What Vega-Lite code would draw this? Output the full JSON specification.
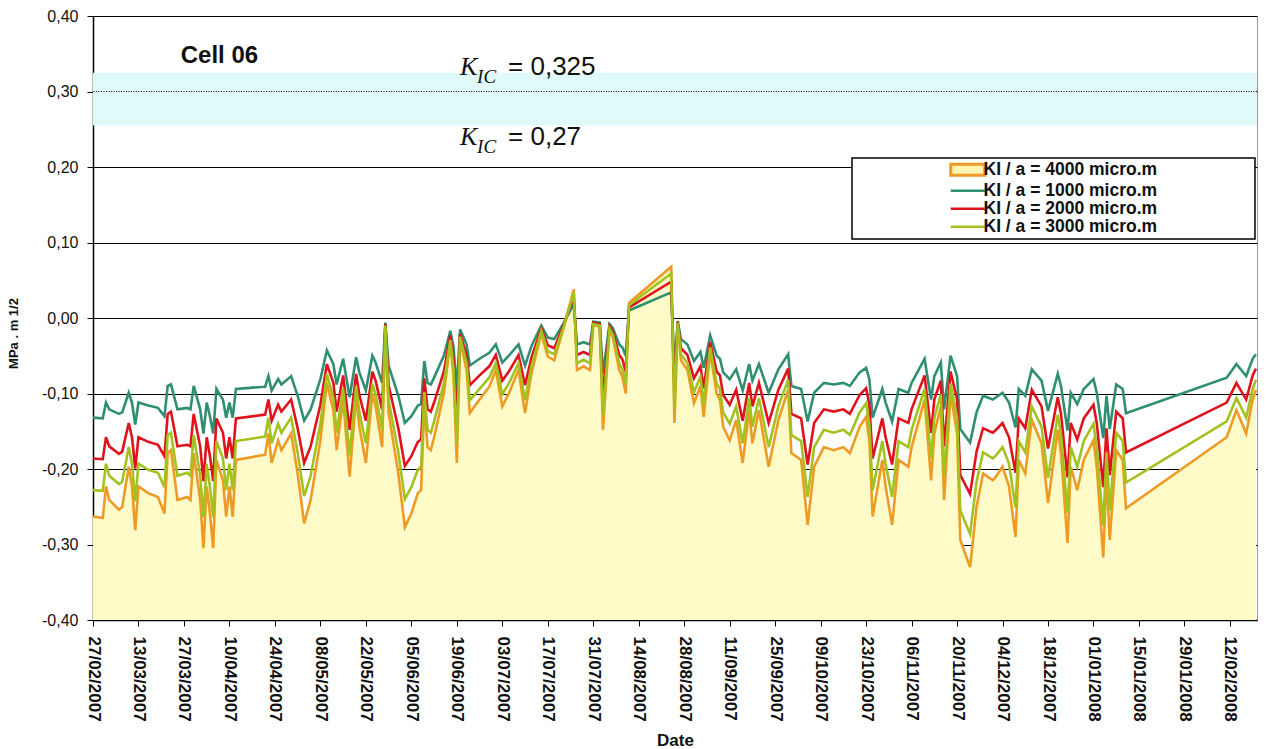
{
  "$schema": "https://vega.github.io/schema/vega-lite/v6.json",
  "width": 1164,
  "height": 604,
  "autosize": {"type": "none"},
  "padding": {"left": 93, "top": 16, "right": 9, "bottom": 129},
  "background": "white",
  "config": {
    "font": "Liberation Sans",
    "view": {"stroke": "#9a9a9a", "strokeWidth": 1},
    "legend": {
      "orient": "none",
      "legendX": 759,
      "legendY": 142,
      "padding": 3,
      "symbolOffset": 104,
      "strokeColor": "#000",
      "strokeWidth": 1.5,
      "fillColor": "white",
      "labelFontSize": 17.5,
      "labelFontWeight": "bold",
      "labelColor": "#111",
      "labelOffset": 7,
      "labelLimit": 400,
      "rowPadding": -2.5,
      "symbolSize": 1156,
      "symbolStrokeWidth": 2.5
    }
  },
  "datasets": {
    "k": [
      {"d":"2007-02-27","k1000":-0.132,"k2000":-0.186,"k3000":-0.228,"k4000":-0.263},
      {"d":"2007-03-02","k1000":-0.133,"k2000":-0.187,"k3000":-0.229,"k4000":-0.265},
      {"d":"2007-03-03","k1000":-0.112,"k2000":-0.158,"k3000":-0.193,"k4000":-0.223},
      {"d":"2007-03-04","k1000":-0.121,"k2000":-0.170,"k3000":-0.209,"k4000":-0.241},
      {"d":"2007-03-07","k1000":-0.127,"k2000":-0.180,"k3000":-0.220,"k4000":-0.254},
      {"d":"2007-03-08","k1000":-0.125,"k2000":-0.177,"k3000":-0.217,"k4000":-0.250},
      {"d":"2007-03-10","k1000":-0.099,"k2000":-0.139,"k3000":-0.171,"k4000":-0.197},
      {"d":"2007-03-11","k1000":-0.112,"k2000":-0.158,"k3000":-0.193,"k4000":-0.223},
      {"d":"2007-03-12","k1000":-0.141,"k2000":-0.199,"k3000":-0.243,"k4000":-0.281},
      {"d":"2007-03-13","k1000":-0.112,"k2000":-0.158,"k3000":-0.193,"k4000":-0.223},
      {"d":"2007-03-16","k1000":-0.116,"k2000":-0.164,"k3000":-0.201,"k4000":-0.232},
      {"d":"2007-03-19","k1000":-0.119,"k2000":-0.168,"k3000":-0.205,"k4000":-0.237},
      {"d":"2007-03-21","k1000":-0.130,"k2000":-0.183,"k3000":-0.224,"k4000":-0.259},
      {"d":"2007-03-22","k1000":-0.090,"k2000":-0.127,"k3000":-0.155,"k4000":-0.179},
      {"d":"2007-03-23","k1000":-0.088,"k2000":-0.124,"k3000":-0.152,"k4000":-0.175},
      {"d":"2007-03-25","k1000":-0.121,"k2000":-0.170,"k3000":-0.209,"k4000":-0.241},
      {"d":"2007-03-28","k1000":-0.119,"k2000":-0.168,"k3000":-0.205,"k4000":-0.237},
      {"d":"2007-03-29","k1000":-0.121,"k2000":-0.170,"k3000":-0.209,"k4000":-0.241},
      {"d":"2007-03-30","k1000":-0.090,"k2000":-0.127,"k3000":-0.155,"k4000":-0.179},
      {"d":"2007-04-01","k1000":-0.121,"k2000":-0.170,"k3000":-0.209,"k4000":-0.241},
      {"d":"2007-04-02","k1000":-0.153,"k2000":-0.216,"k3000":-0.264,"k4000":-0.305},
      {"d":"2007-04-03","k1000":-0.112,"k2000":-0.158,"k3000":-0.193,"k4000":-0.223},
      {"d":"2007-04-04","k1000":-0.130,"k2000":-0.183,"k3000":-0.224,"k4000":-0.259},
      {"d":"2007-04-05","k1000":-0.153,"k2000":-0.216,"k3000":-0.264,"k4000":-0.305},
      {"d":"2007-04-06","k1000":-0.094,"k2000":-0.133,"k3000":-0.163,"k4000":-0.188},
      {"d":"2007-04-08","k1000":-0.108,"k2000":-0.152,"k3000":-0.186,"k4000":-0.215},
      {"d":"2007-04-09","k1000":-0.132,"k2000":-0.186,"k3000":-0.228,"k4000":-0.263},
      {"d":"2007-04-10","k1000":-0.112,"k2000":-0.158,"k3000":-0.193,"k4000":-0.223},
      {"d":"2007-04-11","k1000":-0.132,"k2000":-0.186,"k3000":-0.228,"k4000":-0.263},
      {"d":"2007-04-12","k1000":-0.094,"k2000":-0.133,"k3000":-0.163,"k4000":-0.188},
      {"d":"2007-04-21","k1000":-0.091,"k2000":-0.128,"k3000":-0.157,"k4000":-0.181},
      {"d":"2007-04-22","k1000":-0.077,"k2000":-0.108,"k3000":-0.132,"k4000":-0.153},
      {"d":"2007-04-23","k1000":-0.096,"k2000":-0.136,"k3000":-0.166,"k4000":-0.192},
      {"d":"2007-04-25","k1000":-0.081,"k2000":-0.115,"k3000":-0.140,"k4000":-0.162},
      {"d":"2007-04-26","k1000":-0.088,"k2000":-0.124,"k3000":-0.152,"k4000":-0.175},
      {"d":"2007-04-29","k1000":-0.077,"k2000":-0.108,"k3000":-0.132,"k4000":-0.153},
      {"d":"2007-05-01","k1000":-0.103,"k2000":-0.146,"k3000":-0.178,"k4000":-0.206},
      {"d":"2007-05-03","k1000":-0.136,"k2000":-0.192,"k3000":-0.236,"k4000":-0.272},
      {"d":"2007-05-05","k1000":-0.121,"k2000":-0.170,"k3000":-0.209,"k4000":-0.241},
      {"d":"2007-05-08","k1000":-0.081,"k2000":-0.115,"k3000":-0.140,"k4000":-0.162},
      {"d":"2007-05-10","k1000":-0.043,"k2000":-0.061,"k3000":-0.074,"k4000":-0.086},
      {"d":"2007-05-12","k1000":-0.061,"k2000":-0.086,"k3000":-0.106,"k4000":-0.122},
      {"d":"2007-05-13","k1000":-0.088,"k2000":-0.124,"k3000":-0.152,"k4000":-0.175},
      {"d":"2007-05-15","k1000":-0.054,"k2000":-0.076,"k3000":-0.094,"k4000":-0.108},
      {"d":"2007-05-17","k1000":-0.105,"k2000":-0.148,"k3000":-0.182,"k4000":-0.210},
      {"d":"2007-05-19","k1000":-0.052,"k2000":-0.074,"k3000":-0.090,"k4000":-0.104},
      {"d":"2007-05-20","k1000":-0.072,"k2000":-0.102,"k3000":-0.125,"k4000":-0.144},
      {"d":"2007-05-22","k1000":-0.096,"k2000":-0.136,"k3000":-0.166,"k4000":-0.192},
      {"d":"2007-05-24","k1000":-0.050,"k2000":-0.071,"k3000":-0.087,"k4000":-0.100},
      {"d":"2007-05-25","k1000":-0.059,"k2000":-0.083,"k3000":-0.101,"k4000":-0.117},
      {"d":"2007-05-27","k1000":-0.086,"k2000":-0.121,"k3000":-0.148,"k4000":-0.171},
      {"d":"2007-05-28","k1000":-0.006,"k2000":-0.008,"k3000":-0.010,"k4000":-0.012},
      {"d":"2007-05-29","k1000":-0.063,"k2000":-0.089,"k3000":-0.109,"k4000":-0.126},
      {"d":"2007-06-01","k1000":-0.103,"k2000":-0.146,"k3000":-0.178,"k4000":-0.206},
      {"d":"2007-06-03","k1000":-0.139,"k2000":-0.196,"k3000":-0.240,"k4000":-0.277},
      {"d":"2007-06-05","k1000":-0.130,"k2000":-0.183,"k3000":-0.224,"k4000":-0.259},
      {"d":"2007-06-07","k1000":-0.116,"k2000":-0.164,"k3000":-0.201,"k4000":-0.232},
      {"d":"2007-06-08","k1000":-0.114,"k2000":-0.161,"k3000":-0.197,"k4000":-0.228},
      {"d":"2007-06-09","k1000":-0.057,"k2000":-0.080,"k3000":-0.098,"k4000":-0.113},
      {"d":"2007-06-10","k1000":-0.086,"k2000":-0.121,"k3000":-0.148,"k4000":-0.171},
      {"d":"2007-06-11","k1000":-0.088,"k2000":-0.124,"k3000":-0.152,"k4000":-0.175},
      {"d":"2007-06-12","k1000":-0.079,"k2000":-0.112,"k3000":-0.137,"k4000":-0.158},
      {"d":"2007-06-15","k1000":-0.050,"k2000":-0.071,"k3000":-0.087,"k4000":-0.100},
      {"d":"2007-06-17","k1000":-0.017,"k2000":-0.023,"k3000":-0.029,"k4000":-0.033},
      {"d":"2007-06-18","k1000":-0.039,"k2000":-0.055,"k3000":-0.068,"k4000":-0.078},
      {"d":"2007-06-19","k1000":-0.096,"k2000":-0.136,"k3000":-0.166,"k4000":-0.192},
      {"d":"2007-06-20","k1000":-0.015,"k2000":-0.021,"k3000":-0.025,"k4000":-0.029},
      {"d":"2007-06-22","k1000":-0.035,"k2000":-0.049,"k3000":-0.060,"k4000":-0.069},
      {"d":"2007-06-23","k1000":-0.063,"k2000":-0.089,"k3000":-0.109,"k4000":-0.126},
      {"d":"2007-06-26","k1000":-0.054,"k2000":-0.076,"k3000":-0.094,"k4000":-0.108},
      {"d":"2007-06-29","k1000":-0.046,"k2000":-0.064,"k3000":-0.079,"k4000":-0.091},
      {"d":"2007-07-01","k1000":-0.035,"k2000":-0.049,"k3000":-0.060,"k4000":-0.069},
      {"d":"2007-07-03","k1000":-0.059,"k2000":-0.083,"k3000":-0.101,"k4000":-0.117},
      {"d":"2007-07-05","k1000":-0.050,"k2000":-0.071,"k3000":-0.087,"k4000":-0.100},
      {"d":"2007-07-08","k1000":-0.035,"k2000":-0.049,"k3000":-0.060,"k4000":-0.069},
      {"d":"2007-07-10","k1000":-0.063,"k2000":-0.089,"k3000":-0.109,"k4000":-0.126},
      {"d":"2007-07-12","k1000":-0.037,"k2000":-0.052,"k3000":-0.063,"k4000":-0.073},
      {"d":"2007-07-15","k1000":-0.010,"k2000":-0.014,"k3000":-0.017,"k4000":-0.020},
      {"d":"2007-07-17","k1000":-0.026,"k2000":-0.036,"k3000":-0.044,"k4000":-0.051},
      {"d":"2007-07-19","k1000":-0.028,"k2000":-0.040,"k3000":-0.048,"k4000":-0.056},
      {"d":"2007-07-22","k1000":-0.006,"k2000":-0.008,"k3000":-0.010,"k4000":-0.011},
      {"d":"2007-07-25","k1000":0.019,"k2000":0.027,"k3000":0.033,"k4000":0.038},
      {"d":"2007-07-26","k1000":-0.035,"k2000":-0.049,"k3000":-0.060,"k4000":-0.069},
      {"d":"2007-07-28","k1000":-0.032,"k2000":-0.045,"k3000":-0.055,"k4000":-0.064},
      {"d":"2007-07-30","k1000":-0.035,"k2000":-0.049,"k3000":-0.060,"k4000":-0.069},
      {"d":"2007-07-31","k1000":-0.005,"k2000":-0.006,"k3000":-0.008,"k4000":-0.009},
      {"d":"2007-08-02","k1000":-0.006,"k2000":-0.008,"k3000":-0.010,"k4000":-0.011},
      {"d":"2007-08-03","k1000":-0.074,"k2000":-0.105,"k3000":-0.128,"k4000":-0.148},
      {"d":"2007-08-05","k1000":-0.008,"k2000":-0.011,"k3000":-0.014,"k4000":-0.016},
      {"d":"2007-08-06","k1000":-0.013,"k2000":-0.018,"k3000":-0.022,"k4000":-0.025},
      {"d":"2007-08-08","k1000":-0.035,"k2000":-0.049,"k3000":-0.060,"k4000":-0.069},
      {"d":"2007-08-09","k1000":-0.039,"k2000":-0.055,"k3000":-0.068,"k4000":-0.078},
      {"d":"2007-08-10","k1000":-0.050,"k2000":-0.071,"k3000":-0.087,"k4000":-0.100},
      {"d":"2007-08-11","k1000":0.010,"k2000":0.014,"k3000":0.017,"k4000":0.020},
      {"d":"2007-08-24","k1000":0.034,"k2000":0.048,"k3000":0.059,"k4000":0.068},
      {"d":"2007-08-25","k1000":-0.070,"k2000":-0.098,"k3000":-0.120,"k4000":-0.139},
      {"d":"2007-08-26","k1000":-0.004,"k2000":-0.005,"k3000":-0.006,"k4000":-0.007},
      {"d":"2007-08-27","k1000":-0.028,"k2000":-0.040,"k3000":-0.048,"k4000":-0.056},
      {"d":"2007-08-29","k1000":-0.035,"k2000":-0.049,"k3000":-0.060,"k4000":-0.069},
      {"d":"2007-08-31","k1000":-0.057,"k2000":-0.080,"k3000":-0.098,"k4000":-0.113},
      {"d":"2007-09-02","k1000":-0.045,"k2000":-0.064,"k3000":-0.078,"k4000":-0.090},
      {"d":"2007-09-03","k1000":-0.066,"k2000":-0.093,"k3000":-0.113,"k4000":-0.131},
      {"d":"2007-09-05","k1000":-0.023,"k2000":-0.032,"k3000":-0.039,"k4000":-0.045},
      {"d":"2007-09-07","k1000":-0.050,"k2000":-0.071,"k3000":-0.087,"k4000":-0.100},
      {"d":"2007-09-08","k1000":-0.054,"k2000":-0.076,"k3000":-0.094,"k4000":-0.108},
      {"d":"2007-09-09","k1000":-0.072,"k2000":-0.102,"k3000":-0.125,"k4000":-0.144},
      {"d":"2007-09-11","k1000":-0.081,"k2000":-0.115,"k3000":-0.140,"k4000":-0.162},
      {"d":"2007-09-13","k1000":-0.068,"k2000":-0.095,"k3000":-0.117,"k4000":-0.135},
      {"d":"2007-09-15","k1000":-0.096,"k2000":-0.136,"k3000":-0.166,"k4000":-0.192},
      {"d":"2007-09-17","k1000":-0.061,"k2000":-0.086,"k3000":-0.106,"k4000":-0.122},
      {"d":"2007-09-18","k1000":-0.083,"k2000":-0.117,"k3000":-0.144,"k4000":-0.166},
      {"d":"2007-09-20","k1000":-0.061,"k2000":-0.086,"k3000":-0.106,"k4000":-0.122},
      {"d":"2007-09-23","k1000":-0.099,"k2000":-0.139,"k3000":-0.171,"k4000":-0.197},
      {"d":"2007-09-26","k1000":-0.068,"k2000":-0.095,"k3000":-0.117,"k4000":-0.135},
      {"d":"2007-09-29","k1000":-0.048,"k2000":-0.067,"k3000":-0.082,"k4000":-0.095},
      {"d":"2007-09-30","k1000":-0.090,"k2000":-0.127,"k3000":-0.155,"k4000":-0.179},
      {"d":"2007-10-03","k1000":-0.094,"k2000":-0.133,"k3000":-0.163,"k4000":-0.188},
      {"d":"2007-10-05","k1000":-0.137,"k2000":-0.194,"k3000":-0.237,"k4000":-0.274},
      {"d":"2007-10-07","k1000":-0.099,"k2000":-0.139,"k3000":-0.171,"k4000":-0.197},
      {"d":"2007-10-10","k1000":-0.086,"k2000":-0.121,"k3000":-0.148,"k4000":-0.171},
      {"d":"2007-10-13","k1000":-0.088,"k2000":-0.124,"k3000":-0.152,"k4000":-0.175},
      {"d":"2007-10-16","k1000":-0.086,"k2000":-0.121,"k3000":-0.148,"k4000":-0.171},
      {"d":"2007-10-18","k1000":-0.090,"k2000":-0.127,"k3000":-0.155,"k4000":-0.179},
      {"d":"2007-10-21","k1000":-0.072,"k2000":-0.102,"k3000":-0.125,"k4000":-0.144},
      {"d":"2007-10-23","k1000":-0.066,"k2000":-0.093,"k3000":-0.113,"k4000":-0.131},
      {"d":"2007-10-24","k1000":-0.081,"k2000":-0.115,"k3000":-0.140,"k4000":-0.162},
      {"d":"2007-10-25","k1000":-0.132,"k2000":-0.186,"k3000":-0.228,"k4000":-0.263},
      {"d":"2007-10-28","k1000":-0.094,"k2000":-0.133,"k3000":-0.163,"k4000":-0.188},
      {"d":"2007-10-29","k1000":-0.112,"k2000":-0.158,"k3000":-0.193,"k4000":-0.223},
      {"d":"2007-10-31","k1000":-0.137,"k2000":-0.194,"k3000":-0.237,"k4000":-0.274},
      {"d":"2007-11-02","k1000":-0.094,"k2000":-0.133,"k3000":-0.163,"k4000":-0.188},
      {"d":"2007-11-05","k1000":-0.099,"k2000":-0.139,"k3000":-0.171,"k4000":-0.197},
      {"d":"2007-11-06","k1000":-0.086,"k2000":-0.121,"k3000":-0.148,"k4000":-0.171},
      {"d":"2007-11-10","k1000":-0.054,"k2000":-0.076,"k3000":-0.094,"k4000":-0.108},
      {"d":"2007-11-12","k1000":-0.108,"k2000":-0.152,"k3000":-0.186,"k4000":-0.215},
      {"d":"2007-11-13","k1000":-0.077,"k2000":-0.108,"k3000":-0.132,"k4000":-0.153},
      {"d":"2007-11-15","k1000":-0.059,"k2000":-0.083,"k3000":-0.101,"k4000":-0.117},
      {"d":"2007-11-16","k1000":-0.121,"k2000":-0.170,"k3000":-0.209,"k4000":-0.241},
      {"d":"2007-11-18","k1000":-0.050,"k2000":-0.071,"k3000":-0.087,"k4000":-0.100},
      {"d":"2007-11-20","k1000":-0.077,"k2000":-0.108,"k3000":-0.132,"k4000":-0.153},
      {"d":"2007-11-21","k1000":-0.147,"k2000":-0.208,"k3000":-0.255,"k4000":-0.294},
      {"d":"2007-11-24","k1000":-0.165,"k2000":-0.233,"k3000":-0.286,"k4000":-0.330},
      {"d":"2007-11-26","k1000":-0.125,"k2000":-0.177,"k3000":-0.217,"k4000":-0.250},
      {"d":"2007-11-28","k1000":-0.103,"k2000":-0.146,"k3000":-0.178,"k4000":-0.206},
      {"d":"2007-12-01","k1000":-0.108,"k2000":-0.152,"k3000":-0.186,"k4000":-0.215},
      {"d":"2007-12-02","k1000":-0.105,"k2000":-0.148,"k3000":-0.182,"k4000":-0.210},
      {"d":"2007-12-04","k1000":-0.099,"k2000":-0.139,"k3000":-0.171,"k4000":-0.197},
      {"d":"2007-12-06","k1000":-0.112,"k2000":-0.158,"k3000":-0.193,"k4000":-0.223},
      {"d":"2007-12-08","k1000":-0.145,"k2000":-0.205,"k3000":-0.251,"k4000":-0.290},
      {"d":"2007-12-09","k1000":-0.094,"k2000":-0.133,"k3000":-0.163,"k4000":-0.188},
      {"d":"2007-12-11","k1000":-0.103,"k2000":-0.146,"k3000":-0.178,"k4000":-0.206},
      {"d":"2007-12-13","k1000":-0.068,"k2000":-0.095,"k3000":-0.117,"k4000":-0.135},
      {"d":"2007-12-16","k1000":-0.083,"k2000":-0.117,"k3000":-0.144,"k4000":-0.166},
      {"d":"2007-12-18","k1000":-0.123,"k2000":-0.173,"k3000":-0.212,"k4000":-0.245},
      {"d":"2007-12-21","k1000":-0.074,"k2000":-0.105,"k3000":-0.128,"k4000":-0.148},
      {"d":"2007-12-22","k1000":-0.090,"k2000":-0.127,"k3000":-0.155,"k4000":-0.179},
      {"d":"2007-12-24","k1000":-0.149,"k2000":-0.211,"k3000":-0.258,"k4000":-0.298},
      {"d":"2007-12-25","k1000":-0.099,"k2000":-0.139,"k3000":-0.171,"k4000":-0.197},
      {"d":"2007-12-27","k1000":-0.114,"k2000":-0.161,"k3000":-0.197,"k4000":-0.228},
      {"d":"2007-12-29","k1000":-0.094,"k2000":-0.133,"k3000":-0.163,"k4000":-0.188},
      {"d":"2008-01-01","k1000":-0.081,"k2000":-0.115,"k3000":-0.140,"k4000":-0.162},
      {"d":"2008-01-02","k1000":-0.099,"k2000":-0.139,"k3000":-0.171,"k4000":-0.197},
      {"d":"2008-01-04","k1000":-0.159,"k2000":-0.224,"k3000":-0.275,"k4000":-0.317},
      {"d":"2008-01-05","k1000":-0.103,"k2000":-0.146,"k3000":-0.178,"k4000":-0.206},
      {"d":"2008-01-06","k1000":-0.147,"k2000":-0.208,"k3000":-0.255,"k4000":-0.294},
      {"d":"2008-01-08","k1000":-0.088,"k2000":-0.124,"k3000":-0.152,"k4000":-0.175},
      {"d":"2008-01-10","k1000":-0.094,"k2000":-0.133,"k3000":-0.163,"k4000":-0.188},
      {"d":"2008-01-11","k1000":-0.126,"k2000":-0.178,"k3000":-0.218,"k4000":-0.252},
      {"d":"2008-02-11","k1000":-0.079,"k2000":-0.112,"k3000":-0.137,"k4000":-0.158},
      {"d":"2008-02-14","k1000":-0.061,"k2000":-0.086,"k3000":-0.106,"k4000":-0.122},
      {"d":"2008-02-17","k1000":-0.077,"k2000":-0.108,"k3000":-0.132,"k4000":-0.153},
      {"d":"2008-02-19","k1000":-0.054,"k2000":-0.076,"k3000":-0.094,"k4000":-0.108},
      {"d":"2008-02-20","k1000":-0.048,"k2000":-0.067,"k3000":-0.082,"k4000":-0.095}
    ]
  },
  "encoding": {
    "x": {
      "field": "d",
      "type": "temporal",
      "scale": {
        "type": "utc",
        "domain": [
          {"year": 2007, "month": 2, "date": 27, "utc": true},
          {"year": 2008, "month": 2, "date": 20, "hours": 8, "utc": true}
        ]
      },
      "axis": {
        "values": [
          {"year": 2007, "month": 2, "date": 27, "utc": true},
          {"year": 2007, "month": 3, "date": 13, "utc": true},
          {"year": 2007, "month": 3, "date": 27, "utc": true},
          {"year": 2007, "month": 4, "date": 10, "utc": true},
          {"year": 2007, "month": 4, "date": 24, "utc": true},
          {"year": 2007, "month": 5, "date": 8, "utc": true},
          {"year": 2007, "month": 5, "date": 22, "utc": true},
          {"year": 2007, "month": 6, "date": 5, "utc": true},
          {"year": 2007, "month": 6, "date": 19, "utc": true},
          {"year": 2007, "month": 7, "date": 3, "utc": true},
          {"year": 2007, "month": 7, "date": 17, "utc": true},
          {"year": 2007, "month": 7, "date": 31, "utc": true},
          {"year": 2007, "month": 8, "date": 14, "utc": true},
          {"year": 2007, "month": 8, "date": 28, "utc": true},
          {"year": 2007, "month": 9, "date": 11, "utc": true},
          {"year": 2007, "month": 9, "date": 25, "utc": true},
          {"year": 2007, "month": 10, "date": 9, "utc": true},
          {"year": 2007, "month": 10, "date": 23, "utc": true},
          {"year": 2007, "month": 11, "date": 6, "utc": true},
          {"year": 2007, "month": 11, "date": 20, "utc": true},
          {"year": 2007, "month": 12, "date": 4, "utc": true},
          {"year": 2007, "month": 12, "date": 18, "utc": true},
          {"year": 2008, "month": 1, "date": 1, "utc": true},
          {"year": 2008, "month": 1, "date": 15, "utc": true},
          {"year": 2008, "month": 1, "date": 29, "utc": true},
          {"year": 2008, "month": 2, "date": 12, "utc": true}
        ],
        "format": "%d/%m/%Y",
        "labelAngle": 90,
        "labelFontSize": 17,
        "labelFontWeight": "bold",
        "labelColor": "#111",
        "labelPadding": 10,
        "labelOverlap": false,
        "labelFlush": false,
        "labelBound": false,
        "tickSize": 6,
        "tickColor": "#000",
        "domainColor": "#000",
        "domainWidth": 1.5,
        "grid": false,
        "title": "Date",
        "titleFontSize": 17,
        "titleFontWeight": "bold",
        "titleColor": "#111",
        "titleY": 120,
        "titleBaseline": "middle"
      }
    }
  },
  "layer": [
    {
      "data": {"values": [{"lo": 0.255, "hi": 0.325}]},
      "mark": {"type": "rect", "color": "#e0f9f9"},
      "encoding": {
        "x": null,
        "y": {
          "field": "hi",
          "type": "quantitative",
          "scale": {"domain": [-0.4, 0.4], "nice": false, "zero": false},
          "axis": {
            "values": [-0.4, -0.3, -0.2, -0.1, 0, 0.1, 0.2, 0.3, 0.4],
            "labelExpr": "(datum.value < -0.001 ? '-' : '') + replace(format(abs(datum.value), '.2f'), '.', ',')",
            "labelFontSize": 16,
            "labelColor": "#111",
            "labelPadding": 9,
            "tickSize": 6,
            "tickColor": "#000",
            "domainColor": "#000",
            "domainWidth": 1.5,
            "grid": true,
            "gridColor": "#000",
            "gridOpacity": 1,
            "gridWidth": 1,
            "title": "MPa . m 1/2",
            "titleFontSize": 13,
            "titleFontWeight": "bold",
            "titleColor": "#111",
            "titleX": -73,
            "titleY": 317
          }
        },
        "y2": {"field": "lo"}
      }
    },
    {
      "data": {"name": "k"},
      "mark": {"type": "area", "color": "#fffbc8", "opacity": 1},
      "encoding": {
        "y": {"field": "k4000", "type": "quantitative"},
        "y2": {"datum": -0.4}
      }
    },
    {
      "data": {"values": [{"v": 0.3}]},
      "mark": {"type": "rule", "color": "#000", "strokeWidth": 1, "strokeDash": [1, 1.5]},
      "encoding": {"x": null, "y": {"field": "v", "type": "quantitative"}}
    },
    {
      "data": {"name": "k"},
      "transform": [
        {"fold": ["k4000", "k1000", "k2000", "k3000"], "as": ["series", "val"]}
      ],
      "mark": {"type": "line", "strokeWidth": 2.6, "interpolate": "linear"},
      "encoding": {
        "y": {"field": "val", "type": "quantitative"},
        "color": {
          "field": "series",
          "type": "nominal",
          "scale": {
            "domain": ["k4000", "k1000", "k2000", "k3000"],
            "range": ["#ee9b25", "#2f8f70", "#e0121c", "#a2c21e"]
          },
          "legend": {
            "title": "\u00a0",
            "titleOrient": "right",
            "titlePadding": 95,
            "titleFontSize": 10,
            "labelExpr": "'KI / a = ' + slice(datum.value, 1) + ' micro.m'",
            "encode": {
              "symbols": {
                "update": {
                  "shape": {"signal": "datum.value === 'k4000' ? 'M-1,-0.33L1,-0.33L1,0.33L-1,0.33Z' : 'stroke'"},
                  "fill": {"signal": "datum.value === 'k4000' ? '#fff4b0' : 'transparent'"},
                  "stroke": {"signal": "scale('color', datum.value)"},
                  "strokeWidth": {"signal": "datum.value === 'k4000' ? 3 : 2.5"}
                }
              }
            }
          }
        }
      }
    },
    {
      "data": {"values": [{"d": "2007-03-26", "v": 0.338, "t": "Cell 06"}]},
      "mark": {"type": "text", "align": "left", "baseline": "alphabetic", "fontSize": 24, "fontWeight": "bold", "color": "#111"},
      "encoding": {"y": {"field": "v", "type": "quantitative"}, "text": {"field": "t"}}
    },
    {
      "data": {"values": [{"d": "2007-06-20", "v": 0.322, "t": "K"}, {"d": "2007-06-20", "v": 0.229, "t": "K"}]},
      "mark": {"type": "text", "align": "left", "baseline": "alphabetic", "fontSize": 26, "font": "Liberation Serif", "fontStyle": "italic", "color": "#111"},
      "encoding": {"y": {"field": "v", "type": "quantitative"}, "text": {"field": "t"}}
    },
    {
      "data": {"values": [{"d": "2007-06-20", "v": 0.322, "t": "IC"}, {"d": "2007-06-20", "v": 0.229, "t": "IC"}]},
      "mark": {"type": "text", "align": "left", "baseline": "alphabetic", "fontSize": 19, "font": "Liberation Serif", "fontStyle": "italic", "color": "#111", "dx": 17, "dy": 8},
      "encoding": {"y": {"field": "v", "type": "quantitative"}, "text": {"field": "t"}}
    },
    {
      "data": {"values": [{"d": "2007-06-20", "v": 0.322, "t": "= 0,325"}, {"d": "2007-06-20", "v": 0.229, "t": "= 0,27"}]},
      "mark": {"type": "text", "align": "left", "baseline": "alphabetic", "fontSize": 26, "color": "#111", "dx": 48},
      "encoding": {"y": {"field": "v", "type": "quantitative"}, "text": {"field": "t"}}
    }
  ]
}
